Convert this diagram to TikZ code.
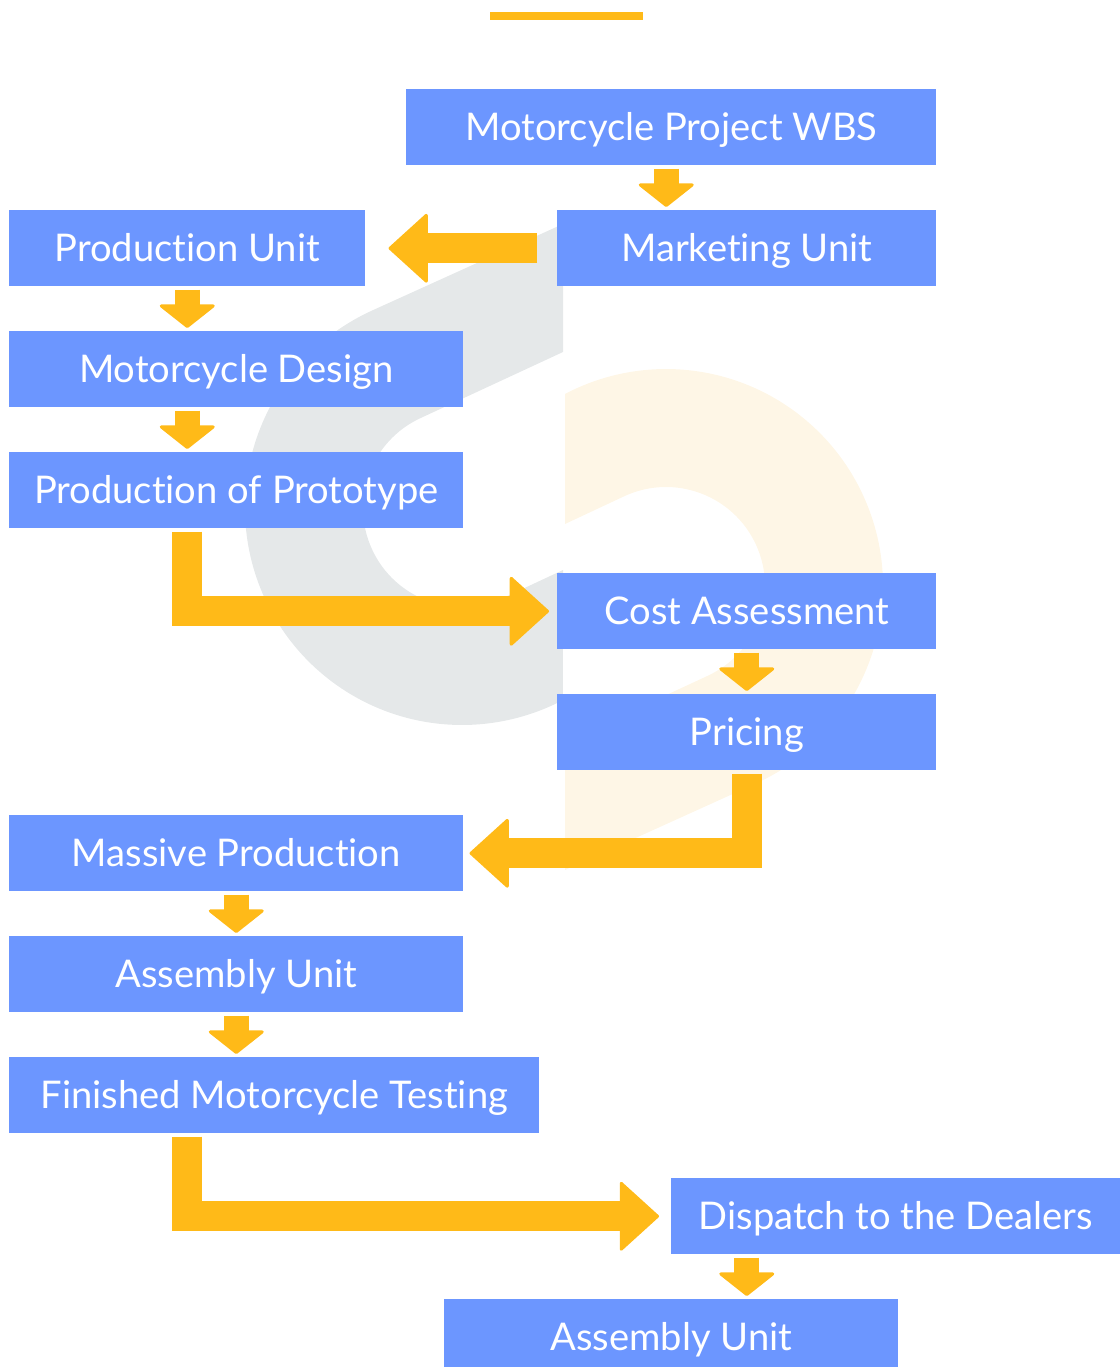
\documentclass[tikz,border=0pt]{standalone}
\usepackage{fontspec}
\setmainfont{Lato}[Ligatures=NoCommon]
\usetikzlibrary{arrows.meta}

\def\u{0.75pt}
\definecolor{unitblue}{HTML}{6C96FF}
\definecolor{flowyellow}{HTML}{FFBA18}
\definecolor{logogray}{HTML}{E5E8E9}
\definecolor{logocream}{HTML}{FEF6E6}

\tikzset{
    unit/.style={fill=unitblue, text=white, anchor=north west, text height=51*\u, text depth=25*\u, inner sep=0pt, font=\fontsize{28.6}{32}\selectfont},
    drop/.style={draw=flowyellow, line width=25*\u, shorten <=3*\u, shorten >=3*\u,
        -{Triangle[length=24*\u, width=60*\u, round, line width=3*\u]}},
    flow/.style={draw=flowyellow, line width=30*\u, line join=miter,
        -{Triangle[length=40*\u, width=72*\u, round, line width=3*\u]}}
}

\newcommand{\logoshape}{(563,224) -- (371.7,310.7) arc[start angle=245.4, end angle=62.3, radius=217]
    -- (563,570) -- (503.2,598) arc[start angle=65.4, end angle=245.4, radius=99] -- (563,352) -- cycle}

\begin{document}
\begin{tikzpicture}[x=\u, y=-\u]
    \clip (0, 0) rectangle (1120, 1367);

    % logo behind the chart
    \fill[logogray] \logoshape;
    \fill[logocream, rotate around={180:(564, 547)}] \logoshape;

    \fill[flowyellow] (490, 12) rectangle (643, 20);

    \node[unit, minimum width=530*\u] (wbs) at (406, 89) {Motorcycle Project WBS};
    \node[unit, minimum width=379*\u] (market) at (557, 210) {Marketing Unit};
    \node[unit, minimum width=356*\u] (produnit) at (9, 210) {Production Unit};
    \node[unit, minimum width=454*\u] (design) at (9, 331) {Motorcycle Design};
    \node[unit, minimum width=454*\u] (proto) at (9, 452) {Production of Prototype};
    \node[unit, minimum width=379*\u] (cost) at (557, 573) {Cost Assessment};
    \node[unit, minimum width=379*\u] (pricing) at (557, 694) {Pricing};
    \node[unit, minimum width=454*\u] (massive) at (9, 815) {Massive Production};
    \node[unit, minimum width=454*\u] (assembly) at (9, 936) {Assembly Unit};
    \node[unit, minimum width=530*\u] (finished) at (9, 1057) {Finished Motorcycle Testing};
    \node[unit, minimum width=449*\u] (dispatch) at (671, 1178) {Dispatch to the Dealers};
    \node[unit, minimum width=454*\u] (lastunit) at (444, 1299) {Assembly Unit};

    \draw[drop] ([xshift=-5*\u]wbs.south) -- ([xshift=-5*\u]wbs.south |- market.north);
    \draw[flow, shorten <=20*\u, shorten >=23*\u] (market.west) -- (produnit.east);
    \draw[drop] (produnit.south) -- (produnit.south |- design.north);
    \draw[drop] (produnit.south |- design.south) -- (produnit.south |- proto.north);
    \draw[flow, shorten <=3*\u, shorten >=8*\u] (produnit.south |- proto.south) |- (cost.west);
    \draw[drop] (cost.south) -- (pricing.north);
    \draw[flow, shorten <=3*\u, shorten >=6*\u] (pricing.south) |- (massive.east);
    \draw[drop] (massive.south) -- (assembly.north);
    \draw[drop] (assembly.south) -- (assembly.south |- finished.north);
    \draw[flow, shorten <=3*\u, shorten >=12*\u] (produnit.south |- finished.south) |- (dispatch.west);
    \draw[drop] (dispatch.south -| cost.south) -- (lastunit.north -| cost.south);
\end{tikzpicture}
\end{document}
